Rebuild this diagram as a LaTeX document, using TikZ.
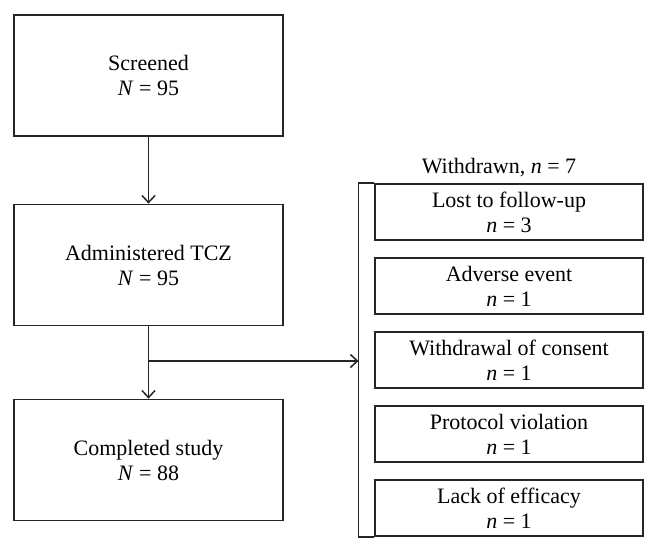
\documentclass[tikz,border=0pt]{standalone}
\usepackage{fontspec}
\setmainfont{Liberation Serif}
\usetikzlibrary{arrows.meta}
\begin{document}
\begin{tikzpicture}[x=1pt,y=-1pt,
  font=\fontsize{22}{25}\selectfont,
  lbox/.style={draw=black!85, line width=1.8pt, minimum width=269pt, minimum height=121pt, align=center, inner sep=0pt},
  rbox/.style={draw=black!85, line width=1.8pt, minimum width=268pt, minimum height=56pt, align=center, inner sep=0pt},
  arr/.style={draw=black!85, line width=1.5pt, -{Straight Barb[length=7pt,width=13pt,line width=1.5pt]}},
  ln/.style={draw=black!85, line width=1.8pt}]
\useasboundingbox (0,0) rectangle (658,551);
\fill[white] (0,0) rectangle (658,551);
% left column
\node[lbox] (scr) at (148.5,75.5) {Screened\\\textit{N} = 95};
\node[lbox] (adm) at (148.5,265) {Administered TCZ\\\textit{N} = 95};
\node[lbox] (comp) at (148.5,460) {Completed study\\\textit{N} = 88};
% withdrawn group
\node[anchor=base] (wlab) at (499,173) {Withdrawn, \textit{n} = 7};
\node[rbox] (r1) at (509,212) {Lost to follow-up\\\textit{n} = 3};
\node[rbox] (r2) at (509,286) {Adverse event\\\textit{n} = 1};
\node[rbox] (r3) at (509,360) {Withdrawal of consent\\\textit{n} = 1};
\node[rbox] (r4) at (509,434) {Protocol violation\\\textit{n} = 1};
\node[rbox] (r5) at (509,508) {Lack of efficacy\\\textit{n} = 1};
\coordinate (fx) at (358.5,360);
\draw[ln, line join=miter] (r1.north west) -- (r1.north -| fx) -- (r5.south -| fx) -- (r5.south west);
% connectors
\draw[arr] (scr.south) -- (adm.north);
\draw[arr] (adm.south) -- (comp.north);
\coordinate (br) at (148.5,361);
\draw[arr] (br) -- (br -| fx);
\end{tikzpicture}
\end{document}
